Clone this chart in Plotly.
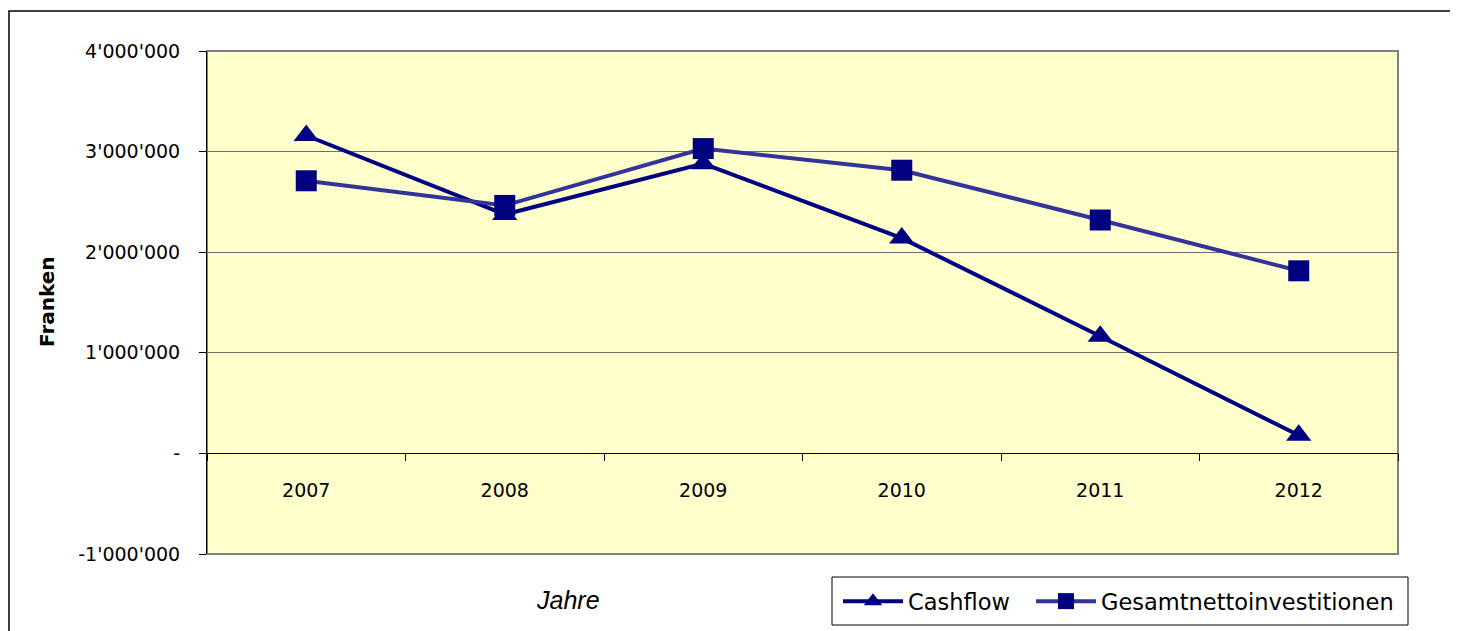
import plotly.graph_objects as go

years = ["2007", "2008", "2009", "2010", "2011", "2012"]
cashflow = [3160000, 2375000, 2880000, 2140000, 1165000, 180000]
gesamtnetto = [2710000, 2465000, 3030000, 2815000, 2320000, 1815000]

y_tickvals = [-1000000, 0, 1000000, 2000000, 3000000, 4000000]
y_ticktext = ["-1'000'000", "-", "1'000'000", "2'000'000", "3'000'000", "4'000'000"]

# page body has an 8px margin; figure is placed to compensate
OFF = 8
W, H = 1458 - OFF, 631 - OFF
L, T = 207 - OFF, 51 - OFF
R = W - (1398 - OFF)
B = H - (554 - OFF)
pw, ph = W - L - R, H - T - B


def px(x):
    return (x - OFF - L) / pw


def py(y):
    return (H - B - (y - OFF)) / ph


tick_font = dict(family="DejaVu Sans", size=19, color="black")
legend_font = dict(family="DejaVu Sans", size=22.5, color="black")

fig = go.Figure()
fig.add_trace(go.Scatter(
    x=years, y=cashflow, name="Cashflow", mode="lines+markers",
    line=dict(color="#000080", width=4),
    marker=dict(symbol="triangle-up", size=22, color="#000080"),
    legend="legend",
))
fig.add_trace(go.Scatter(
    x=years, y=gesamtnetto, name="Gesamtnettoinvestitionen", mode="lines+markers",
    line=dict(color="#333399", width=4),
    marker=dict(symbol="square", size=21, color="#000080"),
    legend="legend2",
))

fig.update_layout(
    width=W, height=H,
    margin=dict(l=L, r=R, t=T, b=B, pad=0, autoexpand=False),
    paper_bgcolor="white",
    plot_bgcolor="#FFFFCC",
    showlegend=True,
    legend=dict(
        orientation="h", x=px(838), xanchor="left", y=py(580), yanchor="top",
        borderwidth=0, bgcolor="rgba(0,0,0,0)", font=legend_font, itemwidth=60,
    ),
    legend2=dict(
        orientation="h", x=px(1031), xanchor="left", y=py(580), yanchor="top",
        borderwidth=0, bgcolor="rgba(0,0,0,0)", font=legend_font, itemwidth=60,
    ),
    xaxis=dict(
        type="category", anchor="free", position=0.2,
        showline=True, linecolor="black", linewidth=1,
        tickson="boundaries", ticks="outside", ticklen=7, tickcolor="black",
        showgrid=False, zeroline=False,
        tickfont=tick_font, ticklabelstandoff=20,
        range=[-0.5, 5.5],
    ),
    yaxis=dict(
        range=[-1000000, 4000000],
        tickvals=y_tickvals, ticktext=y_ticktext,
        ticks="outside", ticklen=7, tickcolor="black",
        showline=True, linecolor="black", linewidth=1,
        showgrid=True, gridcolor="#6e6e6e", gridwidth=1,
        zeroline=False,
        tickfont=tick_font, ticklabelstandoff=15,
    ),
    annotations=[
        dict(text="<b>Franken</b>", textangle=-90, xref="paper", yref="paper",
             x=px(47), y=py(302), showarrow=False, xanchor="center", yanchor="middle",
             font=dict(family="DejaVu Sans", size=20, color="black")),
        dict(text="<i>Jahre</i>", xref="paper", yref="paper",
             x=px(568), y=py(600), showarrow=False, xanchor="center", yanchor="middle",
             font=dict(family="Liberation Sans", size=25, color="black")),
    ],
    shapes=[
        # plot area border (gray, Excel style)
        dict(type="rect", xref="paper", yref="paper", x0=0, x1=1, y0=0, y1=1,
             line=dict(color="#808080", width=2), layer="below"),
        # outer chart border
        dict(type="rect", xref="paper", yref="paper",
             x0=px(9), x1=px(1452), y0=py(660), y1=py(11),
             line=dict(color="black", width=1.5), layer="above"),
        # legend box
        dict(type="rect", xref="paper", yref="paper",
             x0=px(832), x1=px(1408), y0=py(625), y1=py(577),
             line=dict(color="black", width=1), layer="above"),
    ],
)

fig.write_html("out.html")
